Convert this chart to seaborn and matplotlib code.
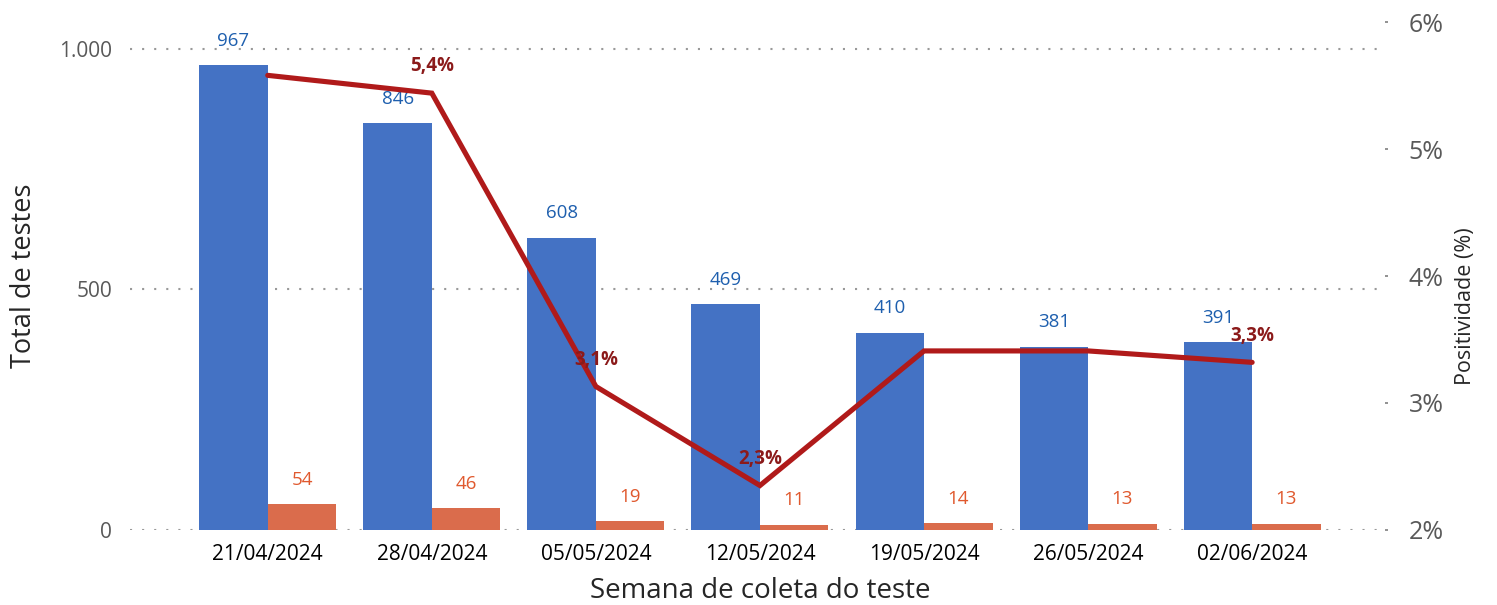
import numpy as np
import pandas as pd
import matplotlib
matplotlib.use("Agg")
import matplotlib.pyplot as plt
import seaborn as sns

semanas = ["21/04/2024", "28/04/2024", "05/05/2024", "12/05/2024",
           "19/05/2024", "26/05/2024", "02/06/2024"]
total_testes = [967, 846, 608, 469, 410, 381, 391]
positivos = [54, 46, 19, 11, 14, 13, 13]
positividade = [5.58, 5.44, 3.13, 2.35, 3.41, 3.41, 3.32]
rotulos_pos = ["", "5,4%", "3,1%", "2,3%", "", "", "3,3%"]

azul = "#4472C4"
laranja = "#DA6C4C"
vermelho = "#B01A1A"
cinza = "#595959"

sns.set_theme(style="white")
plt.rcParams['font.family'] = ['Open Sans', 'DejaVu Sans']

df = pd.DataFrame({
    "semana": semanas * 2,
    "valor": total_testes + positivos,
    "serie": ["Total"] * len(semanas) + ["Positivos"] * len(semanas),
})

fig = plt.figure(figsize=(14.97, 6.05), dpi=100)
ax = fig.add_axes([0.0868, 0.124, 0.8384, 0.8396])

sns.barplot(data=df, x="semana", y="valor", hue="serie", order=semanas,
            palette=[azul, laranja], width=0.835, saturation=1, ax=ax,
            legend=False, linewidth=0, edgecolor="none")

cores_rot = ["#1E5FAE", "#E0592E"]
for cont, cor in zip(ax.containers, cores_rot):
    ax.bar_label(cont, labels=[f"{int(v.get_height())}" for v in cont],
                 padding=11, color=cor, fontsize=13.5)

ax.set_ylim(0, 1056)
ax.set_xlim(-0.84, 6.81)
ax.set_yticks([0, 500, 1000])
ax.set_yticklabels(["0", "500", "1.000"])
ax.tick_params(axis="y", length=0, pad=13, labelsize=15, labelcolor=cinza)
ax.tick_params(axis="x", length=0, pad=10, labelsize=15, labelcolor="black")
ax.grid(axis="y", color="#999999", linestyle=(0, (1, 4.8)), linewidth=1.5)
ax.set_axisbelow(True)
for s in ax.spines.values():
    s.set_visible(False)

ax.set_xlabel("Semana de coleta do teste", fontsize=20, color="#262626")
ax.set_ylabel("Total de testes", fontsize=19.5, color="#262626")
ax.xaxis.set_label_coords(0.502, -0.092)
ax.yaxis.set_label_coords(-0.0733, 0.5)

ax2 = ax.twinx()
x_pos = np.arange(len(semanas))
sns.lineplot(x=x_pos, y=positividade, ax=ax2, color=vermelho, linewidth=3.7,
             solid_capstyle="round", solid_joinstyle="miter")
for xi, yi, r in zip(x_pos, positividade, rotulos_pos):
    if r:
        ax2.annotate(r, (xi, yi), xytext=(0, 12), textcoords="offset points",
                     ha="center", va="bottom", fontsize=13.5, fontweight="bold",
                     color="#8B1A1A")

ax2.set_ylim(2, 6)
ax2.set_yticks([2, 3, 4, 5, 6])
ax2.set_yticklabels(["2%", "3%", "4%", "5%", "6%"])
ax2.tick_params(axis="y", length=2, width=1.2, color="#7F7F7F", pad=15,
                labelsize=18, labelcolor=cinza)
for s in ax2.spines.values():
    s.set_visible(False)
ax2.set_ylabel("Positividade (%)", fontsize=15.5, color="#262626")
ax2.yaxis.set_label_coords(1.056, 0.44)
ax2.grid(False)

fig.savefig("out.png", dpi=100)
